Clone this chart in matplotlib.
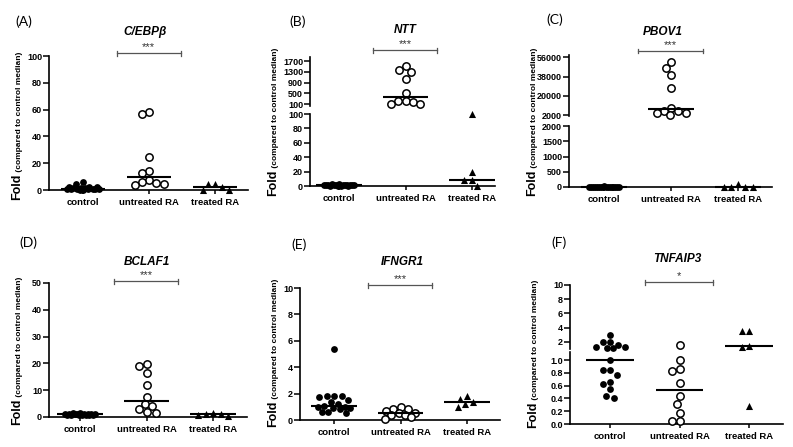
import numpy as np
import matplotlib
matplotlib.use('Agg')
import matplotlib.pyplot as plt
from matplotlib import transforms

W, H = 793, 447
DPI = 100

groups = ['control', 'untreated RA', 'treated RA']

# (A) C/EBPb
cebpb_control = [6.2, 4.5, 2.5, 2.0, 2.0, 1.6, 1.5, 1.2, 1.0, 1.0, 0.8, 0.8, 0.6, 0.5, 0.5, 0.3, 0.2]
cebpb_untreated = [58.5, 56.5, 25.0, 14.0, 12.5, 7.5, 6.2, 5.3, 4.5, 4.0]
cebpb_treated = [4.6, 4.5, 2.5, 0.1, 0.1]

# (B) NTT
ntt_control = [2.5, 2.2, 2.0, 1.8, 1.6, 1.5, 1.3, 1.2, 1.0, 1.0, 0.9, 0.8, 0.7, 0.6, 0.5, 0.4, 0.3]
ntt_untreated = [1523, 1366, 1300, 1032, 526, 222, 200, 172, 120, 105]
ntt_treated = [100, 20, 8, 8, 0]

# (C) PBOV1
pbov1_control = [18, 15, 12, 10, 8, 6, 5, 4, 3, 2, 2, 1.5, 1.2, 1, 1, 0.8, 0.5]
pbov1_untreated = [51900, 46300, 39500, 27600, 8900, 5800, 5800, 3900, 3900, 2300]
pbov1_treated = [110, 10, 8, 6, 1]

# (D) BCLAF1
bclaf1_control = [1.5, 1.4, 1.3, 1.2, 1.2, 1.1, 1.1, 1.0, 1.0, 1.0, 0.9, 0.9, 0.8, 0.8, 0.7, 0.7, 0.6]
bclaf1_untreated = [19.8, 19.0, 16.3, 11.9, 7.5, 4.8, 4.0, 2.9, 1.9, 1.6]
bclaf1_treated = [1.5, 1.3, 1.0, 0.9, 0.2]

# (E) IFNGR1
ifngr1_control = [5.35, 1.8, 1.8, 1.8, 1.75, 1.5, 1.35, 1.2, 1.05, 1.0, 0.95, 0.9, 0.9, 0.85, 0.6, 0.6, 0.55]
ifngr1_untreated = [1.0, 0.85, 0.8, 0.65, 0.55, 0.5, 0.4, 0.4, 0.2, 0.05]
ifngr1_treated = [1.8, 1.6, 1.4, 1.2, 0.95]

# (F) TNFAIP3
tnfaip3_control = [3.0, 1.9, 1.9, 1.6, 1.3, 1.3, 1.15, 1.15, 1.0, 0.84, 0.84, 0.77, 0.66, 0.63, 0.54, 0.44, 0.41]
tnfaip3_untreated = [1.5, 1.0, 0.86, 0.83, 0.64, 0.43, 0.32, 0.17, 0.04, 0.04]
tnfaip3_treated = [3.5, 3.5, 1.45, 1.25, 0.28]

plt.rcParams['font.family'] = ['Liberation Sans', 'DejaVu Sans']

fig = plt.figure(figsize=(W / DPI, H / DPI), dpi=DPI)

marker_styles = [
    dict(marker='o', s=24, color='k', linewidths=0),
    dict(marker='o', s=28, facecolors='white', edgecolors='k', linewidths=1.1),
    dict(marker='^', s=26, color='k', linewidths=0),
]


def px_axes(left, right, top, bottom):
    return fig.add_axes([left / W, 1 - bottom / H, (right - left) / W, (bottom - top) / H])


def swarm(ypix, d=7.5, maxw=16.0):
    ypix = np.asarray(ypix, dtype=float)
    order = np.argsort(-ypix, kind='stable')
    cands = np.arange(-maxw, maxw + 0.01, 0.5)
    cands = cands[np.argsort(np.abs(cands), kind='stable')]
    xs = np.zeros(len(ypix))
    placed = []
    for i in order:
        best, best_gap = 0.0, -1.0
        for c in cands:
            gap = min((np.hypot(c - px, ypix[i] - py) for px, py in placed), default=1e9)
            if gap >= d:
                best = c
                break
            if gap > best_gap + 1e-9:
                best, best_gap = c, gap
        xs[i] = best
        placed.append((best, ypix[i]))
    return xs


def draw_panel(p):
    left, right, cat0, step = p['xbox']
    segs = p['segments']
    axes = []
    for k, (ylim, top, bottom, ticks, labels) in enumerate(segs):
        ax = px_axes(left, right, top, bottom)
        ax.set_xlim((left - cat0) / step, (right - cat0) / step)
        ax.set_ylim(*ylim)
        ax.patch.set_alpha(0)
        for s in ['top', 'right']:
            ax.spines[s].set_visible(False)
        ax.spines['left'].set_linewidth(1.2)
        ax.spines['bottom'].set_linewidth(1.2)
        ax.set_yticks(ticks)
        ax.set_yticklabels(labels, fontsize=6.5, fontweight='bold')
        ax.tick_params(axis='y', length=4, width=1.1, pad=1)
        if k == len(segs) - 1:
            ax.set_xticks(range(len(groups)))
            ax.set_xticklabels(groups, fontsize=6.8, fontweight='bold')
            ax.tick_params(axis='x', length=3, width=1.1, pad=3)
        else:
            ax.spines['bottom'].set_visible(False)
            ax.set_xticks([])
        axes.append(ax)

    def pick(v):
        if len(axes) == 1:
            return axes[0]
        return axes[0] if v > p['split'] else axes[1]

    for i, (vals, style) in enumerate(zip(p['data'], marker_styles)):
        ypix = [pick(v).transData.transform((0, v))[1] for v in vals]
        offs = swarm(ypix)
        for v, o in zip(vals, offs):
            pick(v).scatter(i + o / step, v, clip_on=False, zorder=3, **style)
        med = np.median(vals)
        pick(med).plot([i - 0.34, i + 0.34], [med, med], color='k', lw=1.5,
                       solid_capstyle='butt', zorder=4, clip_on=False)

    # significance bar
    top_ax = axes[0]
    tr = transforms.blended_transform_factory(top_ax.transData, fig.transFigure)
    yb = 1 - p['sig_y'] / H
    cap = 2.5 / H
    x1, x2 = 0.51, 1.48
    top_ax.plot([x1, x2], [yb, yb], color='#555555', lw=0.9, transform=tr, clip_on=False)
    for xx in (x1, x2):
        top_ax.plot([xx, xx], [yb - cap, yb + cap], color='#555555', lw=0.9,
                    transform=tr, clip_on=False)
    top_ax.text((x1 + x2) / 2, yb + 1 / H, p['sig'], transform=tr, ha='center',
                va='bottom', fontsize=8, color='#333333')

    # labels
    tx, ty = p['title_xy']
    fig.text(tx / W, 1 - ty / H, p['title'], ha='center', va='center', fontsize=8.5,
             fontweight='bold', fontstyle='italic')
    lx, ly = p['label_xy']
    fig.text(lx / W, 1 - ly / H, p['label'], ha='left', va='center', fontsize=10,
             family=['Lato', 'DejaVu Sans'])
    yx, yy = p['ylabel_xy']
    t1 = fig.text(yx / W, 1 - yy / H, 'Fold', rotation=90, ha='center', va='bottom',
                  fontsize=9, fontweight='bold')
    top_ax.annotate(' (compared to control median)', xy=(1, 1), xycoords=t1,
                    rotation=90, ha='right', va='bottom', fontsize=6, fontweight='bold',
                    annotation_clip=False)


panels = [
    dict(label='(A)', label_xy=(15, 22), title='C/EBPβ', title_xy=(145, 32),
         data=[cebpb_control, cebpb_untreated, cebpb_treated],
         xbox=(49, 248, 83, 66),
         segments=[((0, 100), 56, 190, [0, 20, 40, 60, 80, 100], ['0', '20', '40', '60', '80', '100'])],
         sig='***', sig_y=53, ylabel_xy=(17, 200)),
    dict(label='(B)', label_xy=(289, 22), title='NTT', title_xy=(405, 30),
         data=[ntt_control, ntt_untreated, ntt_treated],
         xbox=(310, 495, 339, 66.5), split=100,
         segments=[((20, 1850), 57, 106.2, [100, 500, 900, 1300, 1700], ['100', '500', '900', '1300', '1700']),
                   ((0, 100), 114, 186, [0, 20, 40, 60, 80, 100], ['0', '20', '40', '60', '80', '100'])],
         sig='***', sig_y=50, ylabel_xy=(273, 196)),
    dict(label='(C)', label_xy=(546, 20), title='PBOV1', title_xy=(663, 32),
         data=[pbov1_control, pbov1_untreated, pbov1_treated],
         xbox=(569, 772, 604, 67), split=2000,
         segments=[((1000, 58000), 55.2, 116.1, [2000, 20000, 38000, 56000], ['2000', '20000', '38000', '56000']),
                   ((0, 2000), 126, 187, [0, 500, 1000, 1500, 2000], ['0', '500', '1000', '1500', '2000'])],
         sig='***', sig_y=51, ylabel_xy=(532, 196)),
    dict(label='(D)', label_xy=(19, 243), title='BCLAF1', title_xy=(147, 262),
         data=[bclaf1_control, bclaf1_untreated, bclaf1_treated],
         xbox=(49, 247, 80, 66.5),
         segments=[((0, 50), 283, 417, [0, 10, 20, 30, 40, 50], ['0', '10', '20', '30', '40', '50'])],
         sig='***', sig_y=281, ylabel_xy=(17, 425)),
    dict(label='(E)', label_xy=(291, 245), title='IFNGR1', title_xy=(402, 262),
         data=[ifngr1_control, ifngr1_untreated, ifngr1_treated],
         xbox=(300, 500, 334, 66.5),
         segments=[((0, 10), 288, 420, [0, 2, 4, 6, 8, 10], ['0', '2', '4', '6', '8', '10'])],
         sig='***', sig_y=285, ylabel_xy=(273, 427)),
    dict(label='(F)', label_xy=(551, 243), title='TNFAIP3', title_xy=(677, 259),
         data=[tnfaip3_control, tnfaip3_untreated, tnfaip3_treated],
         xbox=(570, 783, 610, 69.5), split=1.1,
         segments=[((0.93, 10), 285, 349.3, [2, 4, 6, 8, 10], ['2', '4', '6', '8', '10']),
                   ((0, 1.13), 351.7, 424, [0, 0.2, 0.4, 0.6, 0.8, 1.0], ['0.0', '0.2', '0.4', '0.6', '0.8', '1.0'])],
         sig='*', sig_y=282, ylabel_xy=(533, 428)),
]

for p in panels:
    draw_panel(p)

fig.savefig('out.png', dpi=DPI)
